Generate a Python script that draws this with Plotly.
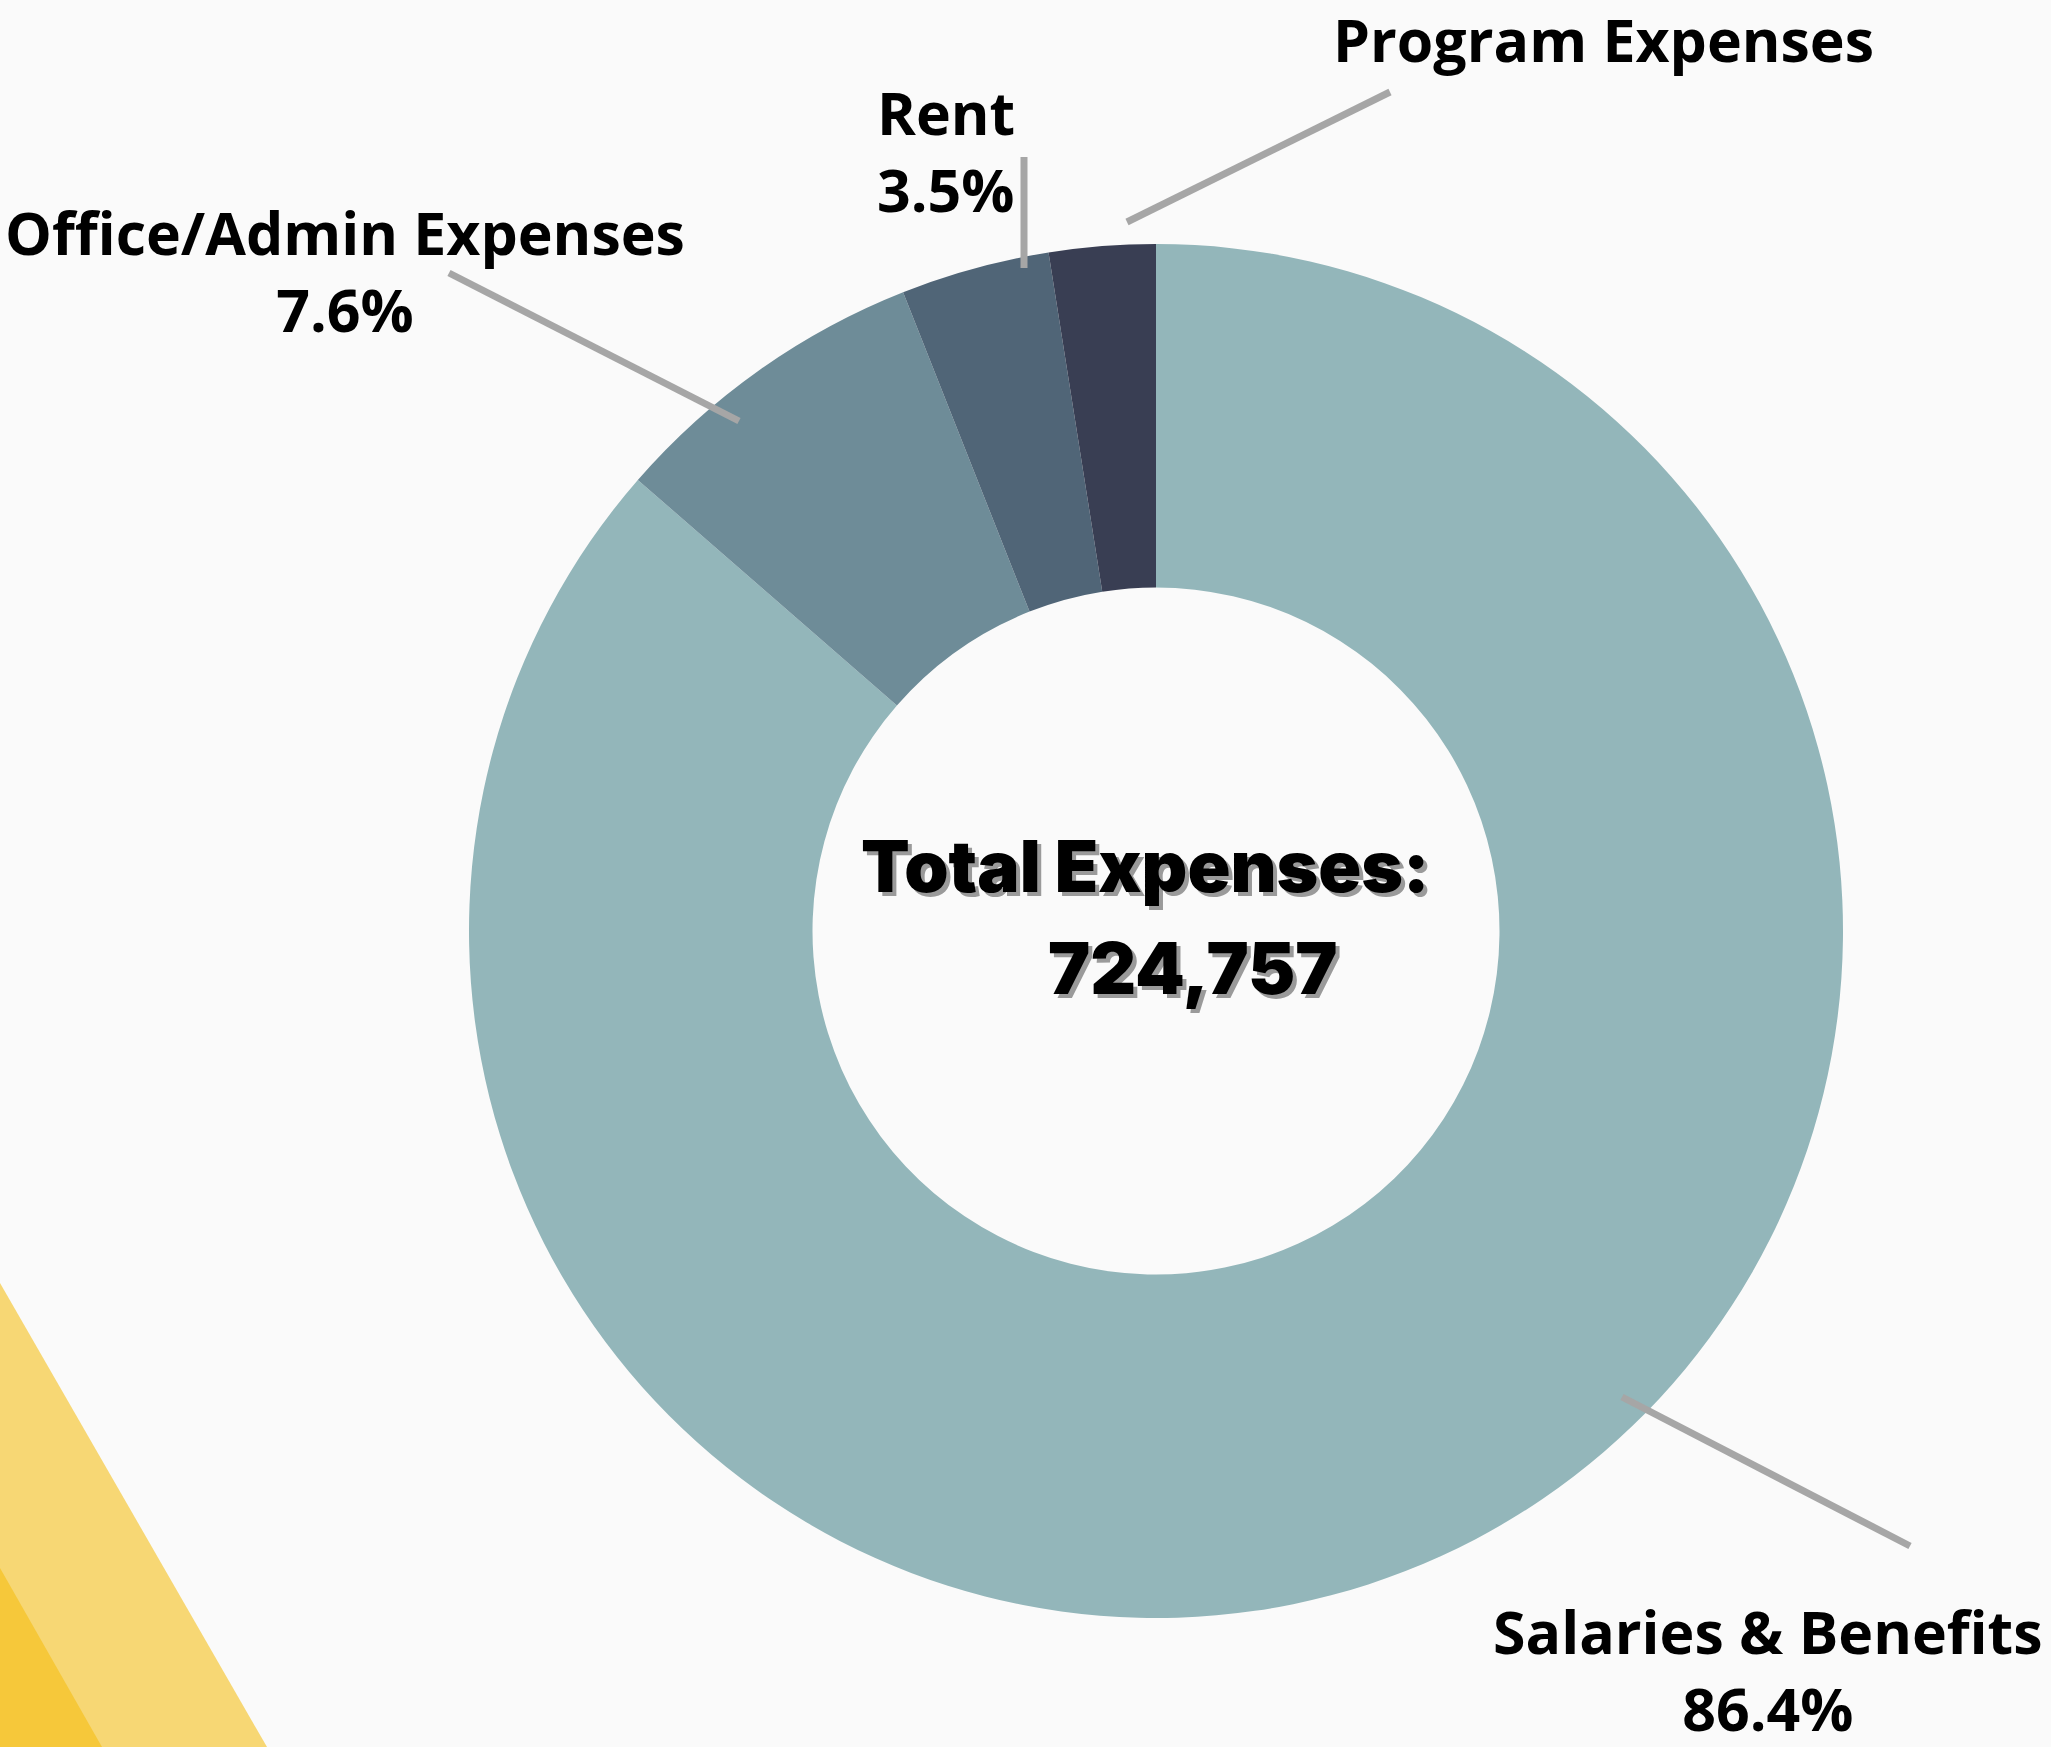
import plotly.graph_objects as go

# ---- data ----
categories = ["Salaries & Benefits", "Office/Admin Expenses", "Rent", "Program Expenses"]
shares = [86.4, 7.6, 3.5, 2.5]          # percent of total expenses
share_labels = ["86.4%", "7.6%", "3.5%", ""]
total_expenses = "724,757"
colors = ["#93B6BA", "#6E8C98", "#506577", "#393E53"]

W, H = 2051, 1747
BG = "#FAFAFA"


def px(x):
    return x / W


def py(y):
    return 1 - y / H


cx, cy, r = 1156, 931, 687

fig = go.Figure(go.Pie(
    labels=categories,
    values=shares,
    hole=0.5,
    sort=False,
    direction="clockwise",
    rotation=0,
    marker=dict(colors=colors, line=dict(width=0)),
    textinfo="none",
    hoverinfo="label+percent",
    showlegend=False,
    domain=dict(x=[px(cx - r), px(cx + r)], y=[py(cy + r), py(cy - r)]),
))

label_font = dict(family="Open Sans", size=59, color="#000000", weight=700)

label_pos = {
    "Salaries & Benefits": (1768, 1669),
    "Office/Admin Expenses": (345, 270),
    "Rent": (946, 150),
    "Program Expenses": (1603, 39),
}
annotations = []
for cat, lab in zip(categories, share_labels):
    x, y = label_pos[cat]
    txt = cat if not lab else f"{cat}<br>{lab}"
    annotations.append(dict(
        x=px(x), y=py(y), xref="paper", yref="paper", text=txt,
        showarrow=False, font=label_font, align="left" if cat == "Rent" else "center",
        xanchor="center", yanchor="middle",
    ))

center_font = dict(family="Inter", size=71, color="#000000", weight=900,
                   shadow="4px 4px 0px #9a9a9a")
annotations.append(dict(x=px(1145), y=py(866), xref="paper", yref="paper",
                        text="Total Expenses:", showarrow=False, font=center_font,
                        xanchor="center", yanchor="middle"))
annotations.append(dict(x=px(1193), y=py(968), xref="paper", yref="paper",
                        text=total_expenses, showarrow=False, font=center_font,
                        xanchor="center", yanchor="middle"))

leader_lines = [
    ((1127, 222), (1390, 92)),
    ((1024, 157), (1024, 268)),
    ((449, 273), (739, 421)),
    ((1622, 1397), (1910, 1546)),
]
shapes = []
# decorative yellow bands bottom-left
shapes.append(dict(type="path", xref="paper", yref="paper",
                   path=f"M 0 {py(1283)} L {px(267)} {py(H)} L 0 {py(H)} Z",
                   fillcolor="#F7D774", line=dict(width=0), layer="below"))
shapes.append(dict(type="path", xref="paper", yref="paper",
                   path=f"M 0 {py(1568)} L {px(102)} {py(H)} L 0 {py(H)} Z",
                   fillcolor="#F6C83A", line=dict(width=0), layer="below"))
for (x0, y0), (x1, y1) in leader_lines:
    shapes.append(dict(type="line", xref="paper", yref="paper",
                       x0=px(x0), y0=py(y0), x1=px(x1), y1=py(y1),
                       line=dict(color="#A6A6A6", width=7)))

fig.update_layout(
    width=W, height=H,
    margin=dict(l=0, r=0, t=0, b=0),
    paper_bgcolor=BG, plot_bgcolor=BG,
    annotations=annotations,
    shapes=shapes,
)

fig.write_html("out.html",
               config={"displayModeBar": False},
               post_script="document.body.style.margin='0';"
                           "document.body.style.background='#FAFAFA';"
                           "document.body.style.overflow='hidden';")
